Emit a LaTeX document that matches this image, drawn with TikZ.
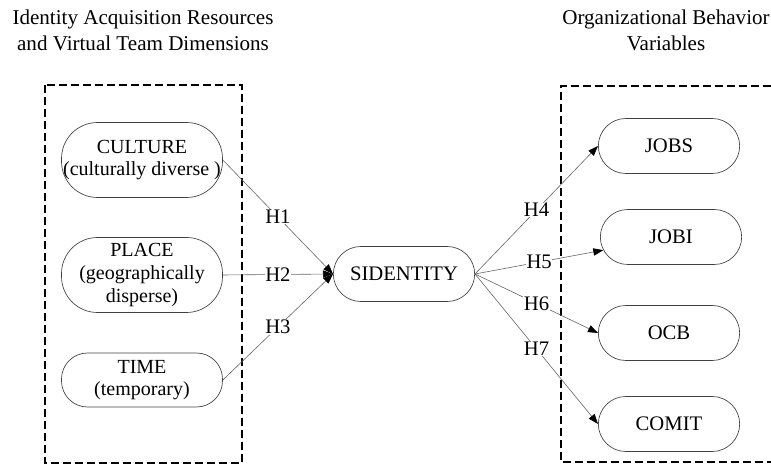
\documentclass[tikz,border=0pt]{standalone}
\usepackage{fontspec}
\setmainfont{Liberation Serif}
\usetikzlibrary{shapes.misc,arrows.meta}
\begin{document}
\begin{tikzpicture}[x=0.75pt,y=-0.75pt,
  var/.style={rectangle, draw=black!75, line width=0.5pt, minimum width=161*0.75pt,
    align=center, inner sep=0pt, font=\fontsize{15}{17}\selectfont},
  outv/.style={rounded rectangle, draw=black!75, line width=0.5pt, minimum width=144*0.75pt,
    minimum height=55*0.75pt, align=center, inner sep=1pt, font=\fontsize{15.5}{17}\selectfont},
  conn/.style={draw=black!60, line width=0.45pt},
  hyp/.style={fill=white, inner sep=0.5pt, font=\fontsize{15.5}{17}\selectfont},
  grp/.style={line width=1.9pt, dash pattern=on 6pt off 3pt},
  ttl/.style={align=center, font=\fontsize{15.8}{19.5}\selectfont},
  tip/.style={-{Triangle[length=7.5pt,width=5.5pt,black]}}]
\useasboundingbox (0,0) rectangle (771,466);
% group frames
\draw[grp] (45,85) rectangle (242,463);
\draw[grp] (771,86) -- (561,86) -- (561,462) -- (771,462);
% titles
\node[ttl] (t1) at (143,30) {Identity Acquisition Resources\\and Virtual Team Dimensions};
\node[ttl] (t2) at (666,30) {Organizational Behavior\\Variables};
% nodes
\node[var, minimum height=75*0.75pt, rounded corners=36*0.75pt] (cult) at (142,160) {CULTURE\\(culturally diverse )};
\node[var, minimum height=75*0.75pt, rounded corners=36*0.75pt] (place) at (142,275) {PLACE\\(geographically\\disperse)};
\node[var, minimum height=54*0.75pt, rounded corners=26*0.75pt] (time) at (142,380) {TIME\\(temporary)};
\node[outv] (sid) at (404,274) {SIDENTITY};
\node[outv] (jobs) at (669,146) {JOBS};
\node[outv] (jobi) at (671,237) {JOBI};
\node[outv] (ocb) at (669,333) {OCB};
\node[outv] (comit) at (669,424) {COMIT};
% connectors
\draw[conn, tip] (cult.east) -- node[hyp] {H1} (sid.west);
\draw[conn, tip] (place.east) -- node[hyp] {H2} (sid.west);
\draw[conn, tip] (time.east) -- node[hyp] {H3} (sid.west);
\draw[conn, tip] (sid.east) -- node[hyp] {H4} (jobs.west);
\draw[conn, tip] (sid.east) -- node[hyp] {H5} (jobi.191);
\draw[conn, tip] (sid.east) -- node[hyp] {H6} (ocb.west);
\draw[conn, tip] (sid.east) -- node[hyp] {H7} (comit.west);
\end{tikzpicture}
\end{document}
